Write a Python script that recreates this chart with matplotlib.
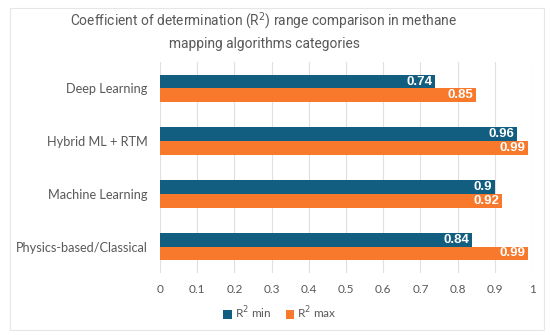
import matplotlib.pyplot as plt
import numpy as np
from matplotlib.patches import Rectangle

categories = ["Deep Learning", "Hybrid ML + RTM", "Machine Learning", "Physics-based/Classical"]
r2_min = [0.74, 0.96, 0.90, 0.84]
r2_max = [0.85, 0.99, 0.92, 0.99]
min_labels = ["0.74", "0.96", "0.9", "0.84"]
max_labels = ["0.85", "0.99", "0.92", "0.99"]
xticks = [0, 0.1, 0.2, 0.3, 0.4, 0.5, 0.6, 0.7, 0.8, 0.9, 1]
xtick_labels = ["0", "0.1", "0.2", "0.3", "0.4", "0.5", "0.6", "0.7", "0.8", "0.9", "1"]

plt.rcParams['font.family'] = ['Lato', 'DejaVu Sans']

blue = "#125E80"
orange = "#F8792C"
text_col = "#595959"

fig = plt.figure(figsize=(5.5, 3.35), dpi=100)
fig.patches.append(Rectangle((10/550, 1-330/335), 534/550, 322/335, transform=fig.transFigure,
                             fill=False, edgecolor="#e6e6e6", linewidth=0.8))
ax = fig.add_axes([160/550, 1-273/335, 372/550, 211/335])

y = np.arange(len(categories))
h = 0.26
b1 = ax.barh(y - h/2, r2_min, height=h, color=blue, label="R$^2$ min", zorder=3)
b2 = ax.barh(y + h/2, r2_max, height=h, color=orange, label="R$^2$ max", zorder=3)

for bars, labs in ((b1, min_labels), (b2, max_labels)):
    for rect, lab in zip(bars, labs):
        ax.text(rect.get_width() - 0.008, rect.get_y() + rect.get_height()/2, lab,
                ha="right", va="center", color="white", fontsize=9.5, fontweight="bold",
                family=['Liberation Sans', 'DejaVu Sans'], zorder=4)

ax.set_xlim(0, 1)
ax.set_ylim(len(categories) - 0.5, -0.5)
ax.set_yticks(y)
ax.set_yticklabels(categories, fontsize=9.2, color=text_col)
ax.set_xticks(xticks)
ax.set_xticklabels(xtick_labels, fontsize=8.5, color=text_col)
ax.tick_params(axis="both", length=0)
ax.tick_params(axis="y", pad=9)
ax.tick_params(axis="x", pad=8)
ax.grid(axis="x", color="#e0e0e0", linewidth=0.8, zorder=0)
for s in ax.spines.values():
    s.set_visible(False)

fig.text(264/550, 1-31/335,
         "Coefficient of determination (R$^2$) range comparison in methane\nmapping algorithms categories",
         fontsize=9.9, color=text_col, ha="center", va="center", linespacing=1.5,
         family=['Roboto', 'DejaVu Sans'])

fig.legend(handles=[b1, b2], loc="center", bbox_to_anchor=(280/550, 1-313/335), ncol=2,
           frameon=False, fontsize=8.5, handlelength=0.7, handleheight=0.7,
           columnspacing=1.2, handletextpad=0.3, labelcolor=text_col)

fig.savefig("out.png", dpi=100)
